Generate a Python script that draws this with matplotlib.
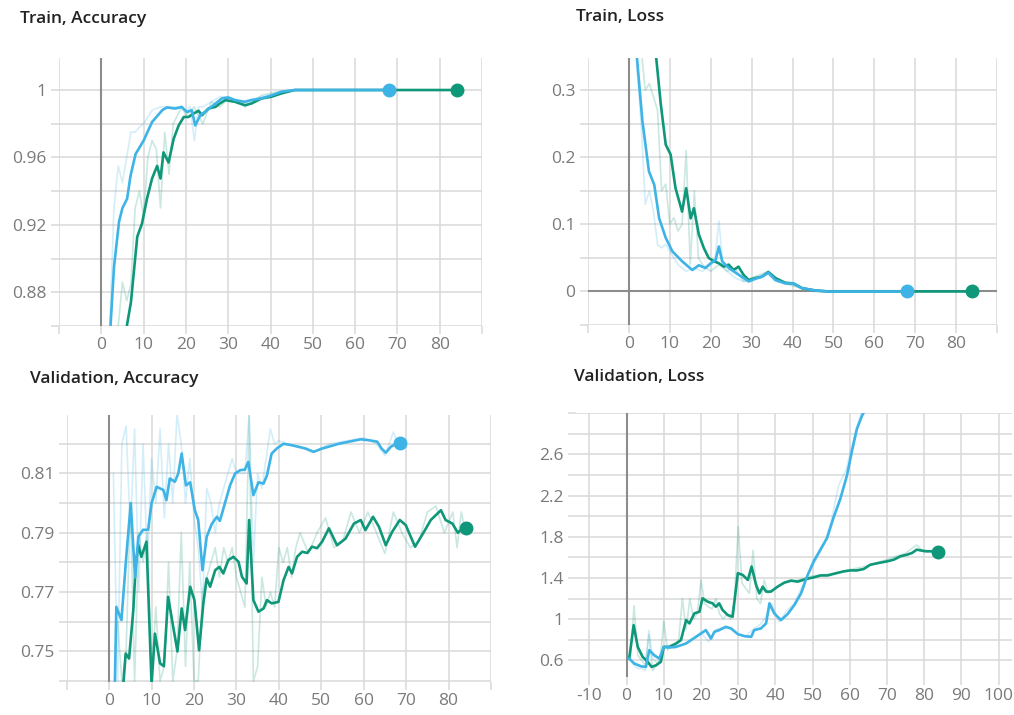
import matplotlib
matplotlib.use("Agg")
import matplotlib.pyplot as plt
from matplotlib.ticker import FixedLocator, FuncFormatter

plt.rcParams["font.family"] = ["Open Sans", "DejaVu Sans"]

BLUE = "#3db3e6"
GREEN = "#0f9779"

# ---- Train, Accuracy (smoothed + raw) ----
ta_blue_steps = [1, 2.2, 3, 4.2, 5, 6.1, 6.9, 8.1, 10, 12, 14.4, 15.5, 17.5, 19, 20.2, 21.4, 22.2, 23.4,
                 24.5, 26, 28.5, 30, 31.6, 34, 35.5, 37.9, 40.2, 42.6, 45.7, 50, 55, 60, 65, 68]
ta_blue = [0.80, 0.861, 0.895, 0.922, 0.930, 0.9355, 0.949, 0.962, 0.970, 0.981, 0.988, 0.9897, 0.989,
           0.990, 0.987, 0.988, 0.979, 0.985, 0.987, 0.990, 0.995, 0.9956, 0.994, 0.993, 0.994, 0.995,
           0.9968, 0.999, 1.0, 1.0, 1.0, 1.0, 1.0, 1.0]
ta_green_steps = [5, 6.1, 7, 8.5, 9.6, 10.8, 12, 13.2, 14, 14.7, 15.9, 17.1, 18.3, 19.5, 20.6, 21.8, 23,
                  23.8, 25.3, 27, 28, 29.3, 31.6, 34, 35.5, 37.9, 40.2, 42.6, 45.7, 50, 60, 70, 80, 84]
ta_green = [0.83, 0.861, 0.874, 0.913, 0.9206, 0.9355, 0.9475, 0.955, 0.9475, 0.963, 0.957, 0.971, 0.979,
            0.984, 0.984, 0.986, 0.9877, 0.985, 0.989, 0.990, 0.992, 0.994, 0.993, 0.991, 0.992, 0.995,
            0.996, 0.998, 1.0, 1.0, 1.0, 1.0, 1.0, 1.0]
ta_blue_raw_steps = [1, 2, 3, 4, 5, 6, 7, 8, 9, 10, 12, 14, 16, 18, 20, 21, 22, 23, 24, 26, 28, 30, 33, 36, 40, 45, 68]
ta_blue_raw = [0.80, 0.86, 0.93, 0.955, 0.945, 0.96, 0.975, 0.975, 0.978, 0.98, 0.988, 0.99, 0.99, 0.99,
               0.988, 0.99, 0.97, 0.99, 0.99, 0.993, 0.996, 0.996, 0.993, 0.995, 0.997, 1.0, 1.0]
ta_green_raw_steps = [4, 5, 6, 7, 8, 9, 10, 11, 12, 13, 14, 15, 16, 17, 18, 19, 20, 22, 24, 26, 28, 30,
                      34, 38, 42, 46, 84]
ta_green_raw = [0.86, 0.886, 0.875, 0.885, 0.93, 0.94, 0.925, 0.96, 0.97, 0.965, 0.93, 0.975, 0.95, 0.98,
                0.985, 0.99, 0.985, 0.99, 0.98, 0.993, 0.99, 0.995, 0.99, 0.997, 0.999, 1.0, 1.0]

# ---- Train, Loss ----
tl_blue_steps = [1, 1.9, 3.3, 4.9, 6.2, 7.4, 9, 10.6, 13, 15.5, 17.1, 18.7, 20, 21.2, 22, 22.8, 24.4,
                 26.8, 29.3, 30.9, 32.5, 34.1, 35.8, 38.2, 40.2, 42.3, 45.5, 48.7, 55, 60, 68]
tl_blue = [0.45, 0.353, 0.254, 0.179, 0.159, 0.109, 0.080, 0.060, 0.045, 0.032, 0.039, 0.035, 0.042,
           0.047, 0.067, 0.045, 0.035, 0.025, 0.015, 0.019, 0.022, 0.028, 0.017, 0.012, 0.012, 0.005,
           0.0015, 0.0, 0.0, 0.0, 0.0]
tl_green_steps = [5.5, 6.6, 7.8, 9, 10.2, 11.4, 13, 14, 15.1, 15.9, 17.1, 18.3, 19.5, 20.8, 22, 23.2,
                  24.4, 25.6, 26.8, 28, 29.3, 30.9, 32.5, 34.1, 35.8, 38.2, 40.2, 42.3, 45.5, 48.7, 60, 70, 84]
tl_green = [0.42, 0.353, 0.279, 0.219, 0.204, 0.154, 0.119, 0.154, 0.109, 0.124, 0.085, 0.065, 0.050,
            0.045, 0.042, 0.037, 0.040, 0.032, 0.037, 0.025, 0.017, 0.020, 0.022, 0.029, 0.020, 0.013,
            0.012, 0.005, 0.0015, 0.0, 0.0, 0.0, 0.0]
tl_blue_raw_steps = [1, 2, 3, 4, 5, 6, 7, 8, 9, 10, 11, 12, 14, 16, 18, 20, 21, 22, 23, 24, 26, 28, 30,
                     32, 34, 36, 40, 45, 68]
tl_blue_raw = [0.45, 0.33, 0.25, 0.13, 0.15, 0.12, 0.07, 0.065, 0.07, 0.06, 0.05, 0.04, 0.03, 0.035,
               0.03, 0.04, 0.045, 0.105, 0.04, 0.03, 0.02, 0.015, 0.015, 0.02, 0.025, 0.015, 0.01, 0.0, 0.0]
tl_green_raw_steps = [3, 4, 5, 6, 7, 8, 9, 10, 11, 12, 13, 14, 15, 16, 17, 18, 20, 22, 24, 26, 28, 30,
                      34, 38, 42, 46, 84]
tl_green_raw = [0.36, 0.30, 0.31, 0.29, 0.27, 0.15, 0.16, 0.10, 0.11, 0.09, 0.10, 0.21, 0.04, 0.15, 0.05,
                0.04, 0.03, 0.04, 0.03, 0.035, 0.015, 0.02, 0.03, 0.012, 0.005, 0.0, 0.0]

# ---- Validation, Accuracy ----
va_blue_steps = [1.3, 1.7, 2.9, 4.1, 5.1, 6.1, 6.9, 8, 9.2, 10, 11.2, 12.8, 13.5, 14.3, 15.5, 16.3, 17.1,
                 18.1, 19.1, 20.2, 21, 22, 23, 24.2, 25.4, 26.1, 27.3, 28.5, 29.7, 30.9, 32, 32.8, 34,
                 35.2, 36.4, 37.2, 38.3, 39.5, 41.1, 43.1, 46.3, 48.2, 50.2, 52.2, 54.1, 56.5, 59.3,
                 61.2, 63.2, 64.2, 65.2, 66.4, 67.6, 68.5]
va_blue = [0.735, 0.765, 0.7606, 0.783, 0.800, 0.775, 0.7887, 0.791, 0.791, 0.800, 0.8055, 0.8044, 0.801,
           0.8083, 0.8072, 0.810, 0.8167, 0.806, 0.807, 0.7976, 0.7943, 0.7774, 0.7887, 0.793, 0.7954,
           0.794, 0.800, 0.806, 0.810, 0.8111, 0.8113, 0.8139, 0.8027, 0.807, 0.8066, 0.8094, 0.8167,
           0.8184, 0.820, 0.8195, 0.8184, 0.8173, 0.8184, 0.8192, 0.820, 0.8207, 0.8215, 0.8212, 0.8207,
           0.8184, 0.817, 0.819, 0.820, 0.8203]
va_green_steps = [3.3, 3.9, 4.7, 5.7, 6.3, 6.9, 7.6, 8.8, 10, 10.8, 12, 12.9, 13.9, 15.1, 16.1, 17.1, 17.9,
                  19.1, 20.1, 21.2, 22.2, 23, 23.8, 25, 26, 26.9, 28.1, 29.3, 30.5, 31.3, 32.4, 33, 34,
                  35.2, 36.4, 37.2, 38.3, 39.9, 41.1, 42.3, 43.1, 44.3, 45.5, 46.7, 47.8, 49, 50.2, 51.8,
                  53.7, 55.7, 57.7, 59.3, 60.4, 62.2, 63.6, 65.2, 66.7, 68.5, 69.9, 72.1, 74.2, 75.8, 78.2,
                  79.3, 80.9, 82.2, 83.3, 84.2]
va_green = [0.738, 0.7493, 0.7476, 0.764, 0.780, 0.7858, 0.7819, 0.787, 0.739, 0.756, 0.746, 0.745,
            0.7684, 0.7583, 0.750, 0.7645, 0.7572, 0.7718, 0.7673, 0.7504, 0.7662, 0.7746, 0.7718, 0.7774,
            0.7785, 0.7763, 0.7808, 0.7819, 0.7802, 0.7752, 0.7729, 0.7943, 0.7673, 0.7634, 0.7645, 0.7673,
            0.7662, 0.7667, 0.774, 0.7785, 0.7763, 0.7819, 0.7836, 0.7832, 0.7853, 0.7848, 0.787, 0.7915,
            0.7858, 0.788, 0.7931, 0.7943, 0.7909, 0.7954, 0.792, 0.7858, 0.7903, 0.7943, 0.7926, 0.7853,
            0.7903, 0.7943, 0.7976, 0.7943, 0.7931, 0.790, 0.7915, 0.7917]
va_blue_raw_steps = list(range(1, 41)) + [42, 45, 48, 52, 56, 60, 63, 65, 67, 68]
va_blue_raw = [0.81, 0.74, 0.82, 0.826, 0.79, 0.825, 0.77, 0.82, 0.78, 0.815, 0.80, 0.825, 0.795, 0.82,
               0.80, 0.83, 0.82, 0.80, 0.815, 0.795, 0.785, 0.765, 0.805, 0.80, 0.79, 0.80, 0.805, 0.81,
               0.815, 0.81, 0.81, 0.81, 0.83, 0.78, 0.81, 0.805, 0.815, 0.825, 0.82, 0.821, 0.82, 0.819,
               0.817, 0.82, 0.821, 0.822, 0.82, 0.816, 0.824, 0.82]
va_green_raw_steps = list(range(2, 46)) + [47, 49, 51, 53, 55, 57, 59, 61, 63, 65, 67, 69, 71, 73, 75,
                                           77, 79, 81, 82, 83, 84]
va_green_raw = [0.76, 0.74, 0.75, 0.80, 0.74, 0.79, 0.78, 0.79, 0.74, 0.765, 0.74, 0.745, 0.78, 0.74,
                0.75, 0.79, 0.745, 0.78, 0.74, 0.74, 0.77, 0.775, 0.78, 0.785, 0.775, 0.785, 0.78, 0.785,
                0.775, 0.77, 0.765, 0.83, 0.74, 0.745, 0.775, 0.765, 0.77, 0.765, 0.785, 0.78, 0.785,
                0.775, 0.785, 0.79, 0.783, 0.79, 0.795, 0.785, 0.787, 0.797, 0.79, 0.797, 0.79, 0.783,
                0.797, 0.79, 0.785, 0.787, 0.797, 0.799, 0.79, 0.797, 0.785, 0.797, 0.79]

# ---- Validation, Loss ----
vl_blue_steps = [0.7, 2.1, 3.9, 5.2, 6.1, 7.4, 8.8, 10, 11.5, 13.3, 14.6, 16, 17.3, 18.7, 20, 21.3, 22.7,
                 23.6, 24.9, 26.7, 28.1, 29.9, 31.7, 33.5, 34.3, 36.1, 37.5, 38.4, 39.7, 41.5, 43.3, 45.1,
                 46.9, 48.5, 50.3, 52.1, 53.9, 55.6, 57.4, 59.2, 60.6, 61.9, 63.3, 64.6, 66, 68]
vl_blue = [0.616, 0.567, 0.541, 0.535, 0.698, 0.649, 0.616, 0.730, 0.724, 0.730, 0.746, 0.763, 0.795,
           0.828, 0.860, 0.893, 0.811, 0.876, 0.893, 0.925, 0.909, 0.854, 0.834, 0.828, 0.893, 0.909,
           0.958, 1.153, 1.055, 0.990, 1.049, 1.137, 1.250, 1.414, 1.561, 1.675, 1.789, 1.984, 2.163,
           2.391, 2.636, 2.848, 2.978, 3.06, 3.2, 3.45]
vl_green_steps = [0.7, 1.9, 3, 4.3, 5.7, 6.7, 7.9, 9.2, 10, 11.5, 13.3, 14.6, 16, 16.9, 18.2, 19.6, 20.4,
                  21.8, 23.1, 24, 24.9, 25.8, 27.2, 28.5, 29.9, 31.2, 32.6, 33.6, 34.8, 35.7, 36.6, 37.5,
                  38.8, 40.6, 42.4, 44.2, 46, 48.5, 50.3, 52.1, 54, 56.5, 58.3, 60.1, 61.9, 63.7, 65.5,
                  67.7, 70, 71.8, 73.6, 75.4, 76.7, 78, 79.4, 80.7, 82.5, 83.8]
vl_green = [0.616, 0.941, 0.730, 0.633, 0.584, 0.535, 0.551, 0.584, 0.730, 0.730, 0.763, 0.795, 0.990,
            0.958, 1.055, 1.072, 1.202, 1.169, 1.153, 1.120, 1.153, 1.088, 1.039, 1.023, 1.446, 1.429,
            1.380, 1.511, 1.332, 1.250, 1.315, 1.267, 1.267, 1.315, 1.354, 1.374, 1.364, 1.392, 1.405,
            1.424, 1.424, 1.447, 1.463, 1.473, 1.473, 1.486, 1.528, 1.545, 1.561, 1.577, 1.610, 1.626,
            1.642, 1.675, 1.665, 1.659, 1.659, 1.655]
vl_blue_raw_steps = [1, 2, 3, 4, 5, 6, 7, 8, 9, 10, 12, 14, 16, 18, 20, 22, 24, 26, 28, 30, 32, 34, 36,
                     38, 39, 41, 43, 45, 47, 49, 51, 53, 55, 57, 59, 61, 63, 65, 68]
vl_blue_raw = [0.6, 0.55, 0.52, 0.52, 0.5, 0.89, 0.62, 0.58, 0.6, 0.72, 0.72, 0.74, 0.76, 0.82, 0.87,
               0.78, 0.9, 0.92, 0.9, 0.85, 0.83, 0.9, 0.95, 1.05, 1.15, 0.97, 1.08, 1.15, 1.3, 1.45, 1.58,
               1.72, 1.95, 2.3, 2.45, 2.75, 3.0, 3.2, 3.5]
vl_green_raw_steps = list(range(1, 39)) + [40, 42, 45, 50, 55, 60, 65, 70, 75, 78, 80, 84]
vl_green_raw = [0.6, 1.13, 0.65, 0.6, 0.55, 0.85, 0.5, 0.55, 0.6, 0.98, 0.7, 0.75, 0.72, 0.8, 1.2, 0.9,
                1.2, 1.0, 1.05, 1.38, 1.15, 1.12, 1.1, 1.2, 1.05, 1.0, 1.05, 1.0, 1.2, 1.9, 1.35, 1.3, 1.25,
                1.67, 1.2, 1.15, 1.38, 1.25, 1.3, 1.35, 1.37, 1.42, 1.44, 1.48, 1.52, 1.58, 1.64, 1.72,
                1.65, 1.66]

fig = plt.figure(figsize=(10.14, 7.15), dpi=100)

W, H = 1014.0, 715.0


def make_ax(l, r, t, b):
    return fig.add_axes([l / W, 1 - b / H, (r - l) / W, (b - t) / H])


def style(ax, xlim, ylim, xmaj, xmin, ymaj, ymin):
    ax.set_xlim(*xlim)
    ax.set_ylim(*ylim)
    for s in ax.spines.values():
        s.set_visible(False)
    ax.xaxis.set_major_locator(FixedLocator(xmaj))
    ax.xaxis.set_minor_locator(FixedLocator(xmin))
    ax.yaxis.set_major_locator(FixedLocator(ymaj))
    ax.yaxis.set_minor_locator(FixedLocator(ymin))
    fmt = FuncFormatter(lambda v, p: f"{v:g}")
    ax.xaxis.set_major_formatter(fmt)
    ax.yaxis.set_major_formatter(fmt)
    ax.grid(True, which="both", color="#d9d9d9", lw=1.1)
    ax.set_axisbelow(True)
    ax.tick_params(which="both", length=6, width=1.1, color="#d9d9d9", direction="out",
                   labelsize=12.5, labelcolor="#7a7a7a", pad=3)
    ax.tick_params(axis="x", which="both", pad=2)


def plot_run(ax, s, v, rs, rv, color):
    ax.plot(rs, rv, color=color, lw=1.2, alpha=0.22, zorder=2)
    ax.plot(s, v, color=color, lw=1.9, zorder=3)
    ax.plot(s[-1], v[-1], "o", color=color, ms=9, zorder=4, clip_on=False)


# Train, Accuracy
ax1 = make_ax(59, 482, 58, 326)
style(ax1, (-10, 90), (0.86, 1.019), range(0, 81, 10), [-10, 90],
      [0.88, 0.92, 0.96, 1.0], [0.86, 0.90, 0.94, 0.98])
ax1.axvline(0, color="#8c8c8c", lw=1.5, zorder=1)
plot_run(ax1, ta_green_steps, ta_green, ta_green_raw_steps, ta_green_raw, GREEN)
plot_run(ax1, ta_blue_steps, ta_blue, ta_blue_raw_steps, ta_blue_raw, BLUE)

# Train, Loss
ax2 = make_ax(588, 997, 58, 325)
style(ax2, (-10, 90), (-0.05, 0.348), range(0, 81, 10), [-10, 90],
      [0, 0.1, 0.2, 0.3], [-0.05, 0.05, 0.15, 0.25])
ax2.axvline(0, color="#8c8c8c", lw=1.5, zorder=1)
ax2.axhline(0, color="#8c8c8c", lw=1.5, zorder=1)
plot_run(ax2, tl_green_steps, tl_green, tl_green_raw_steps, tl_green_raw, GREEN)
plot_run(ax2, tl_blue_steps, tl_blue, tl_blue_raw_steps, tl_blue_raw, BLUE)

# Validation, Accuracy
ax3 = make_ax(66.7, 491, 415, 681.7)
style(ax3, (-10, 90), (0.7398, 0.8297), range(0, 81, 10), [-10, 90],
      [0.75, 0.77, 0.79, 0.81], [0.74, 0.76, 0.78, 0.80, 0.82])
ax3.axvline(0, color="#8c8c8c", lw=1.5, zorder=1)
plot_run(ax3, va_green_steps, va_green, va_green_raw_steps, va_green_raw, GREEN)
plot_run(ax3, va_blue_steps, va_blue, va_blue_raw_steps, va_blue_raw, BLUE)

# Validation, Loss
ax4 = make_ax(576, 1012, 413.3, 676.7)
style(ax4, (-13.6, 103.6), (0.44, 3.0), range(-10, 101, 10), [],
      [0.6, 1, 1.4, 1.8, 2.2, 2.6], [0.8, 1.2, 1.6, 2.0, 2.4, 2.8, 3.0])
ax4.axvline(0, color="#8c8c8c", lw=1.5, zorder=1)
plot_run(ax4, vl_green_steps, vl_green, vl_green_raw_steps, vl_green_raw, GREEN)
ax4.plot(vl_blue_raw_steps, vl_blue_raw, color=BLUE, lw=1.2, alpha=0.22, zorder=2)
ax4.plot(vl_blue_steps, vl_blue, color=BLUE, lw=1.9, zorder=3)

# panel titles
for x, y, txt in [(20, 19, "Train, Accuracy"), (576, 17, "Train, Loss"),
                  (30, 379, "Validation, Accuracy"), (574, 377, "Validation, Loss")]:
    fig.text(x / W, 1 - y / H, txt, fontsize=12.5, fontweight="semibold", color="#222222",
             ha="left", va="center")

fig.savefig("out.png", dpi=100)
